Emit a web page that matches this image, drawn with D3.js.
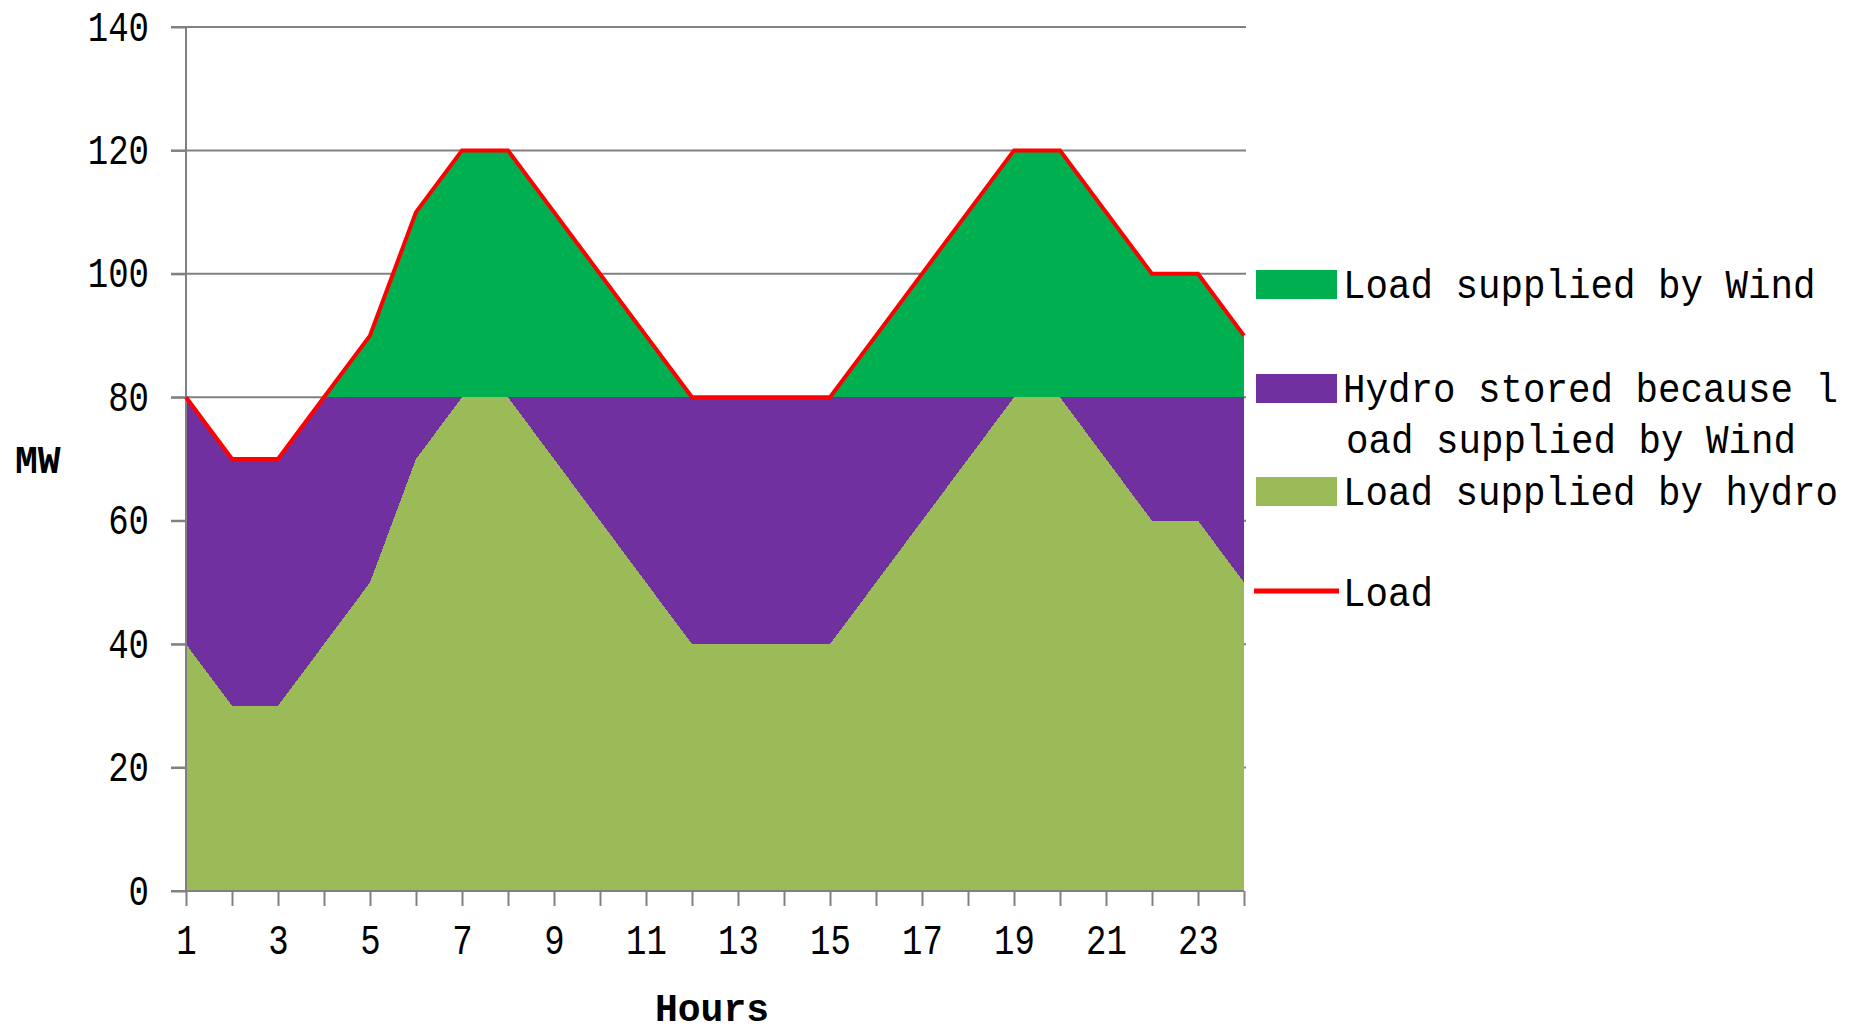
<!DOCTYPE html>
<html>
<head>
<meta charset="utf-8">
<script src="https://cdn.jsdelivr.net/npm/d3@7"></script>
<style>
  body { margin: 0; background: #fff; }
  svg { display: block; }
  text { font-family: "Liberation Mono", "DejaVu Sans Mono", monospace; fill: #000; }
  .tall { transform-box: fill-box; transform-origin: center; transform: scaleY(1.25); }
  .legend-text { transform-box: fill-box; transform-origin: center bottom; transform: scaleY(1.1); }
</style>
</head>
<body>
<script>
// hours on the category axis
const hours = [1,2,3,4,5,6,7,8,9,10,11,12,13,14,15,16,17,18,19,20,21,22,23,24];
// MW per hour
const load          = [80,70,70,80,90,110,120,120,110,100,90,80,80,80,80,90,100,110,120,120,110,100,100,90];
const hydroSupplied = [40,30,30,40,50,70,80,80,70,60,50,40,40,40,40,50,60,70,80,80,70,60,60,50];
const hydroStored   = [40,40,40,40,30,10,0,0,10,20,30,40,40,40,40,30,20,10,0,0,10,20,20,30];
const windSupplied  = [0,0,0,0,10,30,40,40,30,20,10,0,0,0,0,10,20,30,40,40,30,20,20,10];
const yTicks = [0,20,40,60,80,100,120,140];
const xLabelHours = [1,3,5,7,9,11,13,15,17,19,21,23];

const seriesKeys = ["hydro", "stored", "wind"];
const seriesColors = { hydro: "#9BBB59", stored: "#7030A0", wind: "#00B050" };

const W = 1858, H = 1034;
const plotLeft = 186, plotRight = 1244, plotTop = 27, plotBottom = 891;

const svg = d3.select("body").append("svg")
  .attr("width", W).attr("height", H);

const x = d3.scalePoint().domain(hours).range([plotLeft, plotRight]);
const y = d3.scaleLinear().domain([0, 140]).range([plotBottom, plotTop]);

const rows = hours.map((h, i) => ({
  hour: h, hydro: hydroSupplied[i], stored: hydroStored[i], wind: windSupplied[i], load: load[i]
}));

// gridlines (drawn first, the areas cover the lower ones)
svg.append("g").selectAll("line").data(yTicks.filter(d => d > 0)).join("line")
  .attr("x1", plotLeft - 15).attr("x2", plotRight + 2)
  .attr("y1", d => y(d)).attr("y2", d => y(d))
  .attr("stroke", "#808080").attr("stroke-width", 2);

const stacked = d3.stack().keys(seriesKeys)(rows);
const area = d3.area()
  .x(d => x(d.data.hour))
  .y0(d => y(d[0]))
  .y1(d => y(d[1]));

svg.append("g").selectAll("path").data(stacked).join("path")
  .attr("d", area)
  .attr("fill", d => seriesColors[d.key])
  .attr("shape-rendering", "crispEdges");

// y axis
const yAxis = d3.axisLeft(y).tickValues(yTicks).tickSize(15).tickPadding(22);
const gy = svg.append("g").attr("transform", `translate(${plotLeft},0)`).call(yAxis);
gy.select(".domain").remove();
gy.append("line").attr("x1", 0).attr("x2", 0).attr("y1", plotTop).attr("y2", plotBottom)
  .attr("stroke", "#808080").attr("stroke-width", 2);
gy.selectAll(".tick line").attr("stroke", "#808080").attr("stroke-width", 2);
gy.selectAll(".tick text").attr("font-size", 34).attr("class", "tall")
  .attr("font-family", "Liberation Mono, DejaVu Sans Mono, monospace").attr("fill", "#000");

// x axis
const xAxis = d3.axisBottom(x).tickValues(hours).tickSize(15).tickPadding(22)
  .tickFormat(d => xLabelHours.includes(d) ? d : "");
const gx = svg.append("g").attr("transform", `translate(0,${plotBottom})`).call(xAxis);
gx.select(".domain").remove();
gx.append("line").attr("x1", plotLeft - 15).attr("x2", plotRight).attr("y1", 0).attr("y2", 0)
  .attr("stroke", "#808080").attr("stroke-width", 2);
gx.selectAll(".tick line").attr("stroke", "#808080").attr("stroke-width", 2);
gx.selectAll(".tick text").attr("font-size", 34).attr("class", "tall")
  .attr("font-family", "Liberation Mono, DejaVu Sans Mono, monospace").attr("fill", "#000");

// load line
const line = d3.line().x(d => x(d.hour)).y(d => y(d.load));
svg.append("path").datum(rows)
  .attr("d", line)
  .attr("fill", "none")
  .attr("stroke", "#FF0000")
  .attr("stroke-width", 4);

// axis titles
svg.append("text").attr("x", 15).attr("y", 473)
  .attr("font-size", 38).attr("font-weight", "bold").text("MW");
svg.append("text").attr("x", 655).attr("y", 1021)
  .attr("font-size", 38).attr("font-weight", "bold").text("Hours");

// legend
const legend = svg.append("g");
const legendItems = [
  { key: "wind", lines: ["Load supplied by Wind"], y0: 270 },
  { key: "stored", lines: ["Hydro stored because l", "oad supplied by Wind"], y0: 374 },
  { key: "hydro", lines: ["Load supplied by hydro"], y0: 477 }
];
legendItems.forEach(it => {
  legend.append("rect").attr("x", 1256).attr("y", it.y0)
    .attr("width", 81).attr("height", 29).attr("fill", seriesColors[it.key]);
  it.lines.forEach((t, j) => {
    legend.append("text").attr("class", "legend-text")
      .attr("x", 1343 + (j ? 3 : 0)).attr("y", it.y0 + 29 + j * 51)
      .attr("font-size", 37.5).text(t);
  });
});
legend.append("line").attr("x1", 1254).attr("x2", 1339).attr("y1", 591).attr("y2", 591)
  .attr("stroke", "#FF0000").attr("stroke-width", 5);
legend.append("text").attr("class", "legend-text")
  .attr("x", 1343).attr("y", 607).attr("font-size", 37.5).text("Load");
</script>
</body>
</html>
